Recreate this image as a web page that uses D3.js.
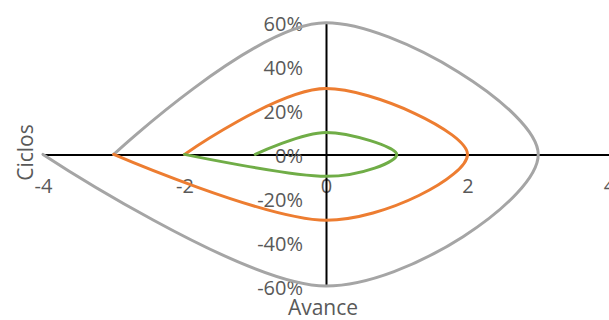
<!DOCTYPE html>
<html>
<head>
<meta charset="utf-8">
<script src="https://cdn.jsdelivr.net/npm/d3@7"></script>
<style>
  html, body { margin: 0; padding: 0; background: #ffffff; }
  svg { display: block; }
  text { font-family: "Open Sans", "Noto Sans", sans-serif; fill: #595959; }
</style>
</head>
<body>
<svg id="chart" width="609" height="320"></svg>
<script>
// Loop series: each closed-ish path of (avance, ciclos) points
const gris    = [[-3, 0], [0, 0.6], [3, 0], [0, -0.6], [-4, 0]];
const naranja = [[-2, 0], [0, 0.3], [2, 0], [0, -0.3], [-3, 0]];
const verde   = [[-1, 0], [0, 0.1], [1, 0], [0, -0.1], [-2, 0]];

const xTicks = [-4, -2, 0, 2, 4];
const yTicks = [-0.6, -0.4, -0.2, 0, 0.2, 0.4, 0.6];

const series = [
  { data: gris,    color: "#A5A5A5" },
  { data: naranja, color: "#ED7D31" },
  { data: verde,   color: "#70AD47" }
];

const svg = d3.select("#chart");

const x = d3.scaleLinear().domain([-4, 4]).range([43, 609]);
const y = d3.scaleLinear().domain([-0.6, 0.6]).range([286, 22.8]);

// Plain hyphen-minus for negative labels
const num = v => String(v);
const pct = v => Math.round(v * 100) + "%";

// Horizontal axis crossing at ciclos = 0
const gx = svg.append("g")
  .attr("transform", `translate(0,${y(0)})`)
  .call(d3.axisBottom(x).tickValues(xTicks).tickSize(0).tickFormat(num));
gx.select(".domain").attr("stroke", "#000").attr("stroke-width", 2);
gx.selectAll("text")
  .attr("y", 39).attr("dy", 0)
  .style("font-size", "20px").attr("fill", "#595959");

// Vertical axis crossing at avance = 0
const gy = svg.append("g")
  .attr("transform", `translate(${x(0)},0)`)
  .call(d3.axisLeft(y).tickValues(yTicks).tickSize(0).tickFormat(pct));
gy.select(".domain").attr("stroke", "#000").attr("stroke-width", 2);
gy.selectAll("text")
  .attr("x", -23).attr("dy", 8)
  .style("font-size", "20px").attr("fill", "#595959");

// Smoothed loops
const line = d3.line()
  .x(d => x(d[0]))
  .y(d => y(d[1]))
  .curve(d3.curveCatmullRom.alpha(0));

svg.append("g").selectAll("path")
  .data(series)
  .join("path")
  .attr("d", s => line(s.data))
  .attr("fill", "none")
  .attr("stroke", s => s.color)
  .attr("stroke-width", 3)
  .attr("stroke-linejoin", "round")
  .attr("stroke-linecap", "round");

// Axis titles
svg.append("text")
  .attr("x", 323).attr("y", 315)
  .attr("text-anchor", "middle")
  .style("font-size", "21px")
  .text("Avance");

svg.append("text")
  .attr("transform", "translate(33,152.5) rotate(-90)")
  .attr("text-anchor", "middle")
  .style("font-size", "21px")
  .text("Ciclos");
</script>
</body>
</html>
